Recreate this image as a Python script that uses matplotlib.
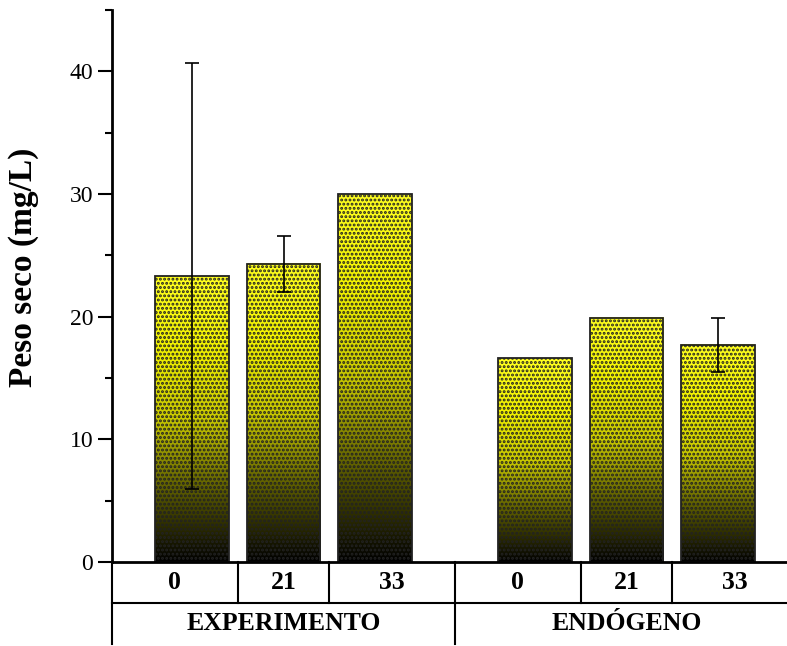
import numpy as np
import matplotlib
matplotlib.use('Agg')
import matplotlib.pyplot as plt
from matplotlib.colors import LinearSegmentedColormap

plt.rcParams['font.family'] = ['Liberation Serif', 'DejaVu Serif']
plt.rcParams['hatch.linewidth'] = 1.4

# data
grupos = ['EXPERIMENTO', 'ENDÓGENO']
dias = ['0', '21', '33']
peso_exp = [23.3, 24.3, 30.0]
err_exp = [17.35, 2.25, 0.0]
peso_end = [16.6, 19.9, 17.7]
err_end = [0.0, 0.0, 2.2]

xpos = np.array([0, 1, 2, 3.75, 4.75, 5.75])
valores = peso_exp + peso_end
erros = err_exp + err_end
labels = dias + dias
largura = 0.8

fig = plt.figure(figsize=(7.87, 6.46), dpi=100)
ax = fig.add_axes([112 / 787, 84 / 646, 686 / 787, 552 / 646])

cmap = LinearSegmentedColormap.from_list('gy', ['#000000', '#5a5a00', '#c8c800', '#f2f200', '#ffff20'])
grad = np.linspace(0, 1, 256).reshape(-1, 1)

for x, v in zip(xpos, valores):
    ax.imshow(grad, cmap=cmap, origin='lower', aspect='auto',
              extent=[x - largura / 2, x + largura / 2, 0, v], zorder=1)

ax.bar(xpos, valores, width=largura, facecolor='none', edgecolor='#222222',
       linewidth=1.3, hatch='....', zorder=2)

for x, v, e in zip(xpos, valores, erros):
    if e > 0:
        ax.errorbar(x, v, yerr=e, fmt='none', ecolor='black', elinewidth=1.2,
                    capsize=5, capthick=1.2, zorder=3)

ax.set_xlim(-0.875, 6.625)
ax.set_ylim(0, 45)
ax.set_yticks([0, 10, 20, 30, 40])
ax.set_yticks(np.arange(5, 50, 10), minor=True)
ax.tick_params(axis='y', which='major', direction='out', length=10, width=1.5, labelsize=17)
ax.tick_params(axis='y', which='minor', direction='out', length=5, width=1.5)
ax.set_xticks([])
ax.spines['top'].set_visible(False)
ax.spines['right'].set_visible(False)
ax.spines['left'].set_linewidth(2)
ax.spines['bottom'].set_linewidth(2)
ax.set_ylabel('Peso seco (mg/L)', fontsize=24, fontweight='bold')
ax.yaxis.set_label_coords(-0.106, 0.533)

# two-row category table under the axis
tr = ax.get_xaxis_transform()
r = 41 / 552
lk = dict(color='black', linewidth=1.5, transform=tr, clip_on=False)
ax.plot([-0.875, 6.625], [-r, -r], **lk)
ax.plot([-0.875, -0.875], [0, -2 * r], **lk)
ax.plot([2.875, 2.875], [0, -2 * r], **lk)
celulas = [-0.875, 0.5, 1.5, 2.875, 4.25, 5.25, 6.625]
for d in [0.5, 1.5, 4.25, 5.25]:
    ax.plot([d, d], [0, -r], **lk)

for i, lab in enumerate(labels):
    xc = (celulas[i] + celulas[i + 1]) / 2
    ax.text(xc, -r / 2, lab, transform=tr, ha='center', va='center',
            fontsize=18.5, fontweight='bold')
for xc, g in zip([1.0, 4.75], grupos):
    ax.text(xc, -1.5 * r, g, transform=tr, ha='center', va='center',
            fontsize=18.5, fontweight='bold')

fig.savefig('out.png', dpi=100)
